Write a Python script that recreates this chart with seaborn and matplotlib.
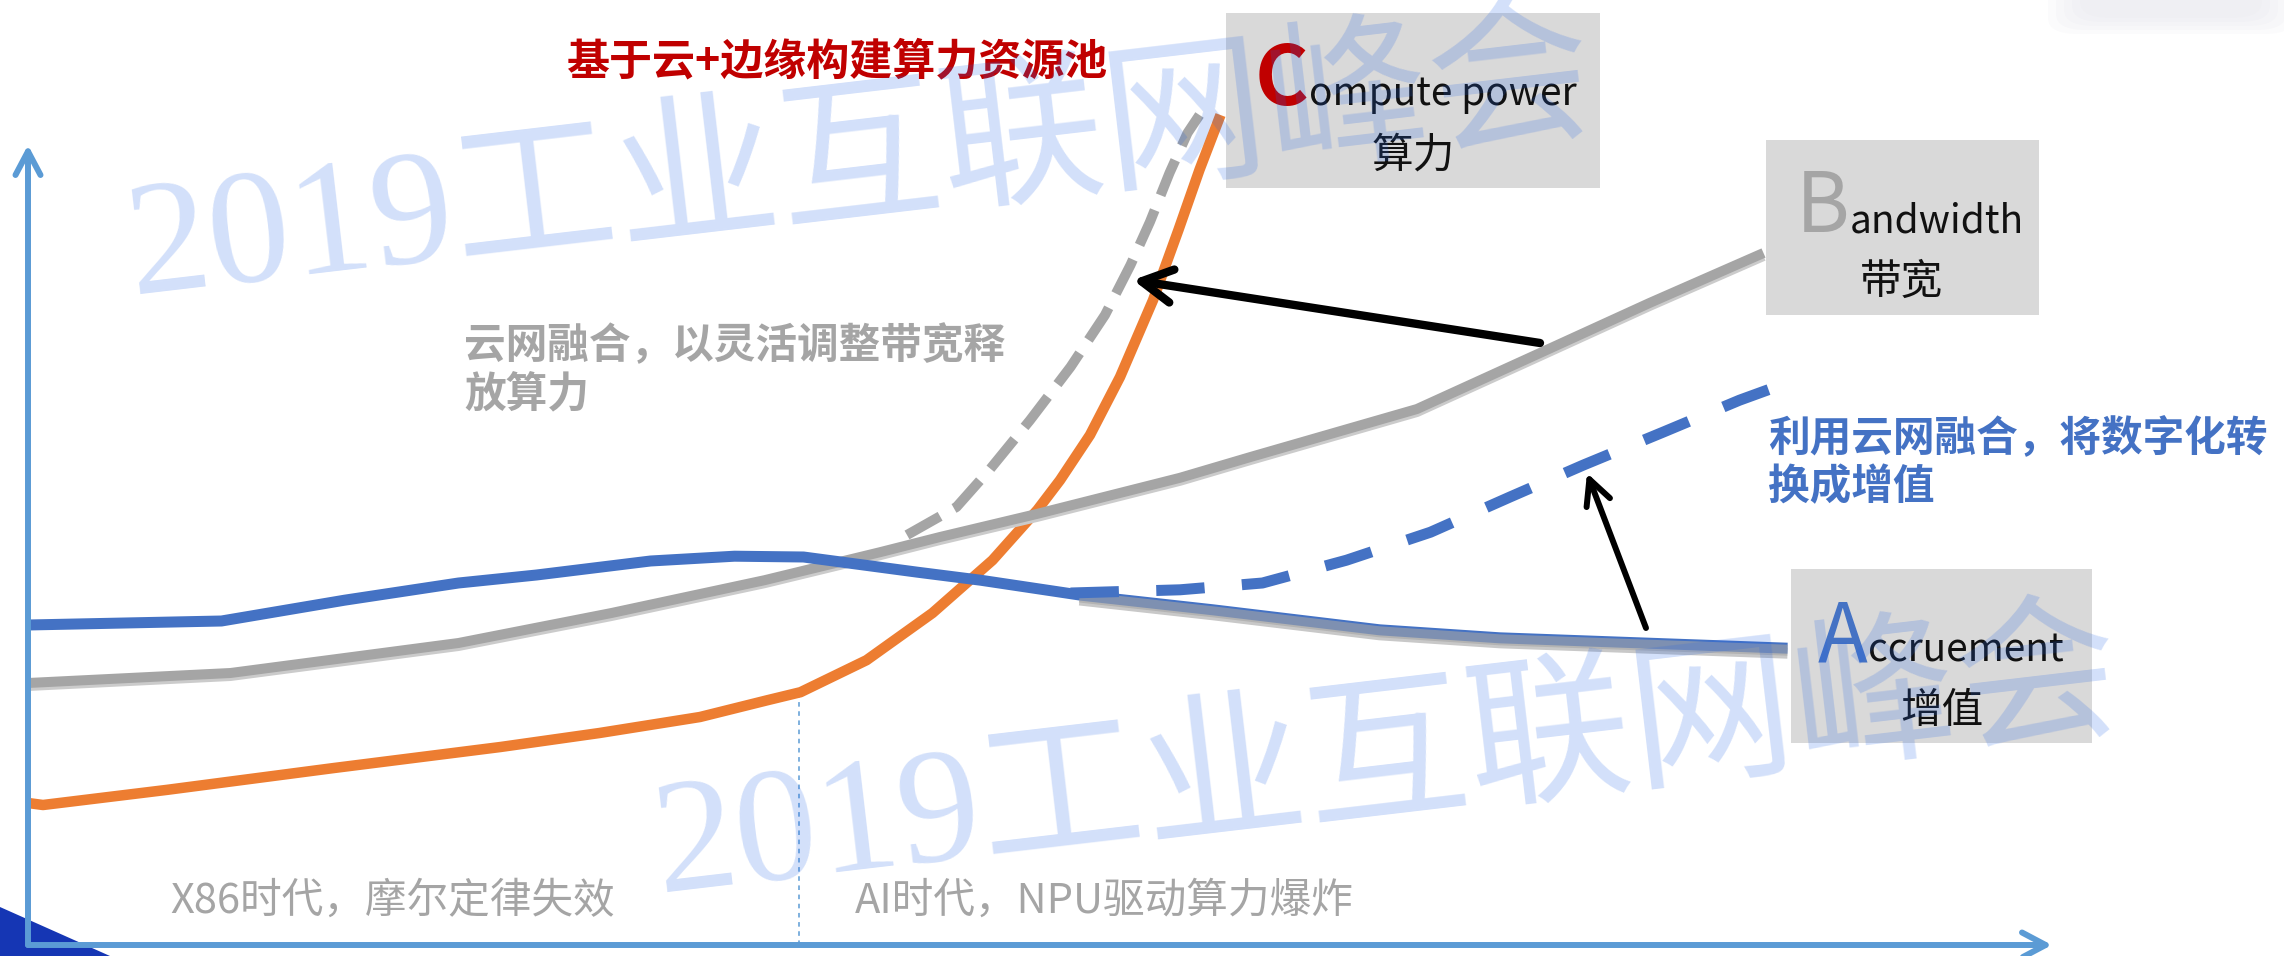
import matplotlib
matplotlib.use("Agg")
import matplotlib.pyplot as plt
import seaborn as sns
from matplotlib.patches import Rectangle, Polygon, FancyArrowPatch, FancyBboxPatch, ArrowStyle
from matplotlib.transforms import offset_copy

# --- Veriler (kavramsal birimler: x = zaman, y = seviye) ---
compute_x = [0, 1.0, 9.3, 20.3, 31.5, 38.1, 44.8, 49.3, 51.5, 55.9, 60.3, 64.3, 67.3, 68.8, 70.8, 72.8, 75.0, 76.7, 78.1, 79.5]
compute_y = [17.75, 17.5, 19.4, 22.1, 24.75, 26.5, 28.5, 30.6, 31.6, 35.6, 41.5, 48.1, 54.4, 58.1, 63.75, 71.0, 80.6, 89.4, 96.9, 103.75]

bandwidth_x = [0, 13.5, 28.7, 38.9, 49.1, 56.8, 60.8, 67.3, 76.8, 81.5, 92.6, 100.8, 108.1, 115.7]
bandwidth_y = [32.75, 34.0, 37.75, 41.5, 45.6, 49.1, 51.0, 53.9, 58.4, 61.0, 67.0, 74.0, 80.25, 86.5]

accrue_x = [0, 12.9, 21.1, 28.7, 33.9, 41.5, 47.1, 51.7, 59.3, 63.5, 70.1, 79.0, 90.1, 98.1, 107.7, 117.3]
accrue_y = [40.0, 40.5, 43.1, 45.25, 46.25, 48.0, 48.6, 48.5, 46.6, 45.6, 43.75, 41.9, 39.4, 38.4, 37.75, 37.1]

cloud_x = [58.6, 61.9, 64.1, 66.8, 69.5, 71.8, 73.5, 74.8, 76.1, 77.3, 78.1]
cloud_y = [51.25, 54.75, 59.4, 65.6, 72.25, 78.75, 85.0, 90.4, 96.5, 101.5, 103.75]

digital_x = [69.5, 76.8, 82.3, 87.9, 93.5, 98.8, 103.7, 109.0, 114.1, 116.3]
digital_y = [44.0, 44.4, 45.25, 48.1, 51.6, 56.0, 60.0, 64.1, 68.1, 69.6]

era_split = 51.4
title = "基于云+边缘构建算力资源池"
note_cloud = ["云网融合，以灵活调整带宽释", "放算力"]
note_value = ["利用云网融合，将数字化转", "换成增值"]
era_labels = ["X86时代，摩尔定律失效", "AI时代，NPU驱动算力爆炸"]
watermark = "2019工业互联网峰会"

# --- Yerleşim: piksel -> veri birimi ---
W, H = 2284, 956
X0, Y0, SX, SY = 28, 945, 15, 8


def P(px, py):
    return (px - X0) / SX, (Y0 - py) / SY


sns.set_theme(style="white")
plt.rcParams["font.family"] = ["Noto Sans CJK SC", "DejaVu Sans"]

fig = plt.figure(figsize=(W / 100, H / 100), dpi=100)
ax = fig.add_axes([0, 0, 1, 1])

ORANGE, GRAY, BLUE = "#ed7d31", "#a5a5a5", "#4472c4"
AXIS = "#5b9bd5"


def line(x, y, color, lw_px, z, dy=0, alpha=1.0, ls="-"):
    sns.lineplot(x=x, y=y, ax=ax, color=color, linewidth=lw_px * 0.72, sort=False,
                 estimator=None, zorder=z, alpha=alpha, linestyle=ls,
                 solid_capstyle="butt", dash_capstyle="butt", solid_joinstyle="round")
    ln = ax.lines[-1]
    if dy:
        ln.set_transform(offset_copy(ax.transData, fig=fig, x=0, y=dy, units="dots"))
    return ln


# --- Eğriler ---
line(compute_x, compute_y, ORANGE, 10.5, 2)
line(bandwidth_x, bandwidth_y, "#cbcbcb", 10, 2.5, dy=-3)
line(bandwidth_x, bandwidth_y, GRAY, 10, 3)
over_x = [x for x in accrue_x if x >= 70]
over_y = [y for x, y in zip(accrue_x, accrue_y) if x >= 70]
line(over_x, over_y, "#c8c8c8", 11, 3.5, dy=-5)
line(accrue_x, accrue_y, BLUE, 11, 4)
line(over_x, over_y, GRAY, 11, 4.5, dy=-2, alpha=0.6)
line(cloud_x, cloud_y, GRAY, 10, 5, ls=(0, (3.8, 1.6)))
line(digital_x, digital_y, BLUE, 11, 5, ls=(0, (4.4, 3.4)))

# --- Eksenler (oklar) ---
for end in [P(28, 145), P(2052, 945)]:
    ax.add_patch(FancyArrowPatch(P(28, 945), end,
                                 arrowstyle=ArrowStyle("->", head_length=17, head_width=9),
                                 mutation_scale=1, lw=4.3, color=AXIS, capstyle="round",
                                 joinstyle="round", shrinkA=0, shrinkB=0, zorder=6))
ax.vlines(era_split, 0, 31.5, colors=AXIS, linestyles=(0, (3, 3)), lw=1.1, zorder=1)

# --- Siyah oklar ---
ax.add_patch(FancyArrowPatch(P(1540, 343), P(1133, 280),
                             arrowstyle=ArrowStyle("->", head_length=22, head_width=12),
                             mutation_scale=1, lw=6.0, color="black", capstyle="round",
                             joinstyle="round", shrinkA=0, shrinkB=0, zorder=6))
ax.add_patch(FancyArrowPatch(P(1646, 628), P(1587, 473),
                             arrowstyle=ArrowStyle("->", head_length=18, head_width=9),
                             mutation_scale=1, lw=4.3, color="black", capstyle="round",
                             joinstyle="round", shrinkA=0, shrinkB=0, zorder=6))

# --- Kutular ---
def box(x0, y0, x1, y1):
    ax.add_patch(Rectangle(P(x0, y1), (x1 - x0) / SX, (y1 - y0) / SY,
                           facecolor="#d9d9d9", edgecolor="none", zorder=1))


box(1226, 13, 1600, 188)
box(1766, 140, 2039, 315)
box(1791, 569, 2092, 743)

# sol alt mavi üçgen ve sağ üst gölge
ax.add_patch(Polygon([P(0, 907), P(110, 956), P(0, 956)], closed=True,
                     facecolor="#1536b4", edgecolor="none", zorder=0.5))
for pad in [0, 8, 16, 24, 32]:
    x0, y0 = P(2080 - pad, 18 + pad * 0.5)
    x1, y1 = P(2262 + pad, -20)
    ax.add_patch(FancyBboxPatch((x0, y0), x1 - x0, y1 - y0,
                                boxstyle="round,pad=0,rounding_size=2",
                                facecolor="#e2e2ea", edgecolor="none", alpha=0.12, zorder=0.5))

# --- Metinler ---
def txt(px, py, s, **kw):
    kw.setdefault("va", "baseline")
    kw.setdefault("zorder", 7)
    return ax.text(*P(px, py), s, **kw)


txt(566, 74, title, fontsize=31, fontweight="bold", color="#c00000")
txt(464, 358, note_cloud[0], fontsize=30, fontweight="bold", color=GRAY)
txt(464, 406, note_cloud[1], fontsize=30, fontweight="bold", color=GRAY)
txt(1768, 451, note_value[0], fontsize=30, fontweight="bold", color=BLUE)
txt(1768, 499, note_value[1], fontsize=30, fontweight="bold", color=BLUE)
txt(170, 913, era_labels[0], fontsize=30, color=GRAY)
txt(855, 913, era_labels[1], fontsize=30, color=GRAY)


def big_label(px, py, letter, rest, color, weight):
    t = txt(px, py, letter, fontsize=59, fontweight=weight, color=color)
    ax.annotate(rest, xy=(1, P(0, py)[1]), xycoords=(t, "data"), fontsize=28,
                color="#111111", ha="left", va="baseline", zorder=7)


big_label(1255, 105, "C", "ompute power", "#c00000", "bold")
txt(1413, 168, "算力", fontsize=30, color="#111111", ha="center")
big_label(1796, 232, "B", "andwidth", GRAY, "medium")
txt(1902, 294, "带宽", fontsize=30, color="#111111", ha="center")
big_label(1818, 662, "A", "ccruement", BLUE, "medium")
txt(1942, 723, "增值", fontsize=30, color="#111111", ha="center")

# --- Filigran ---
for px, py in [(133, 295), (660, 893)]:
    txt(px, py, watermark, fontsize=118, family=["Liberation Serif", "Noto Sans CJK SC"],
        fontweight=300, color=(35 / 255, 100 / 255, 230 / 255), alpha=0.2, rotation=6.7,
        rotation_mode="anchor", ha="left", zorder=20)

ax.set_xlim(P(0, 0)[0], P(W, 0)[0])
ax.set_ylim(P(0, H)[1], P(0, 0)[1])
ax.axis("off")

fig.savefig("out.png", dpi=100, facecolor="white")
